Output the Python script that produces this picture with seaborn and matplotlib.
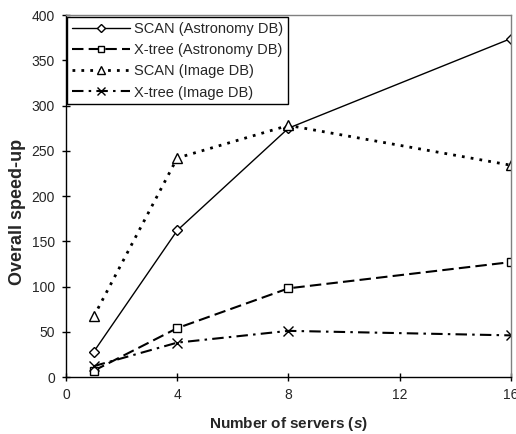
import matplotlib
matplotlib.use("Agg")
import matplotlib.pyplot as plt
import seaborn as sns
import pandas as pd

servers = [1, 4, 8, 16]
scan_astro = [28, 162, 275, 374]
xtree_astro = [7, 54, 98, 127]
scan_image = [67, 242, 278, 234]
xtree_image = [12, 38, 51, 46]
series_names = ["SCAN (Astronomy DB)", "X-tree (Astronomy DB)", "SCAN (Image DB)", "X-tree (Image DB)"]

sns.set_theme(style="ticks")
plt.rcParams['font.family'] = ['Liberation Sans', 'DejaVu Sans']
plt.rcParams['mathtext.fontset'] = 'custom'
plt.rcParams['mathtext.bfit'] = 'Liberation Sans:italic:bold'
plt.rcParams['mathtext.it'] = 'Liberation Sans:italic'
plt.rcParams['mathtext.rm'] = 'Liberation Sans'

fig = plt.figure(figsize=(5.16, 4.34), dpi=100)
ax = fig.add_axes([0.1279, 0.1313, 0.8624, 0.8341])

values = [scan_astro, xtree_astro, scan_image, xtree_image]
styles = [
    dict(linestyle='-', linewidth=1.0, marker='D', markersize=5),
    dict(linestyle=(0, (5.5, 2.5)), linewidth=1.5, marker='s', markersize=6),
    dict(linestyle=(0, (1, 2.2)), linewidth=2.0, marker='^', markersize=6.5),
    dict(linestyle=(0, (5.5, 2.5, 1.2, 2.5)), linewidth=1.5, marker='x', markersize=7),
]
for name, vals, st in zip(series_names, values, styles):
    df = pd.DataFrame({"s": servers, "v": vals})
    sns.lineplot(data=df, x="s", y="v", ax=ax, color='black',
                 markerfacecolor='white', markeredgecolor='black', markeredgewidth=1.0,
                 label=name, **st)

ax.set_xlim(0, 16)
ax.set_ylim(0, 400)
ax.set_xticks([0, 4, 8, 12, 16])
ax.set_yticks(range(0, 401, 50))
ax.tick_params(axis='both', labelsize=10, direction='inout', length=6, width=1, color='black', pad=5)
ax.set_xlabel(r"Number of servers ($\mathbfit{s}$)", fontsize=11, fontweight='bold', labelpad=9)
ax.set_ylabel("Overall speed-up", fontsize=13, fontweight='bold')
ax.yaxis.set_label_coords(-0.09, 0.456)

for side in ['left', 'bottom']:
    ax.spines[side].set_color('black')
    ax.spines[side].set_linewidth(1.0)
for side in ['right', 'top']:
    ax.spines[side].set_visible(True)
    ax.spines[side].set_color('#808080')
    ax.spines[side].set_linewidth(1.0)

leg = ax.legend(loc='upper left', bbox_to_anchor=(0.002, 0.995), borderaxespad=0, fontsize=10.5,
                frameon=True, fancybox=False, handlelength=4.0, handletextpad=0.3,
                labelspacing=0.5, borderpad=0.33, markerscale=0.8)
leg.get_frame().set_edgecolor('black')
leg.get_frame().set_linewidth(1.0)
leg.get_frame().set_alpha(1)

fig.savefig("out.png", dpi=100)
